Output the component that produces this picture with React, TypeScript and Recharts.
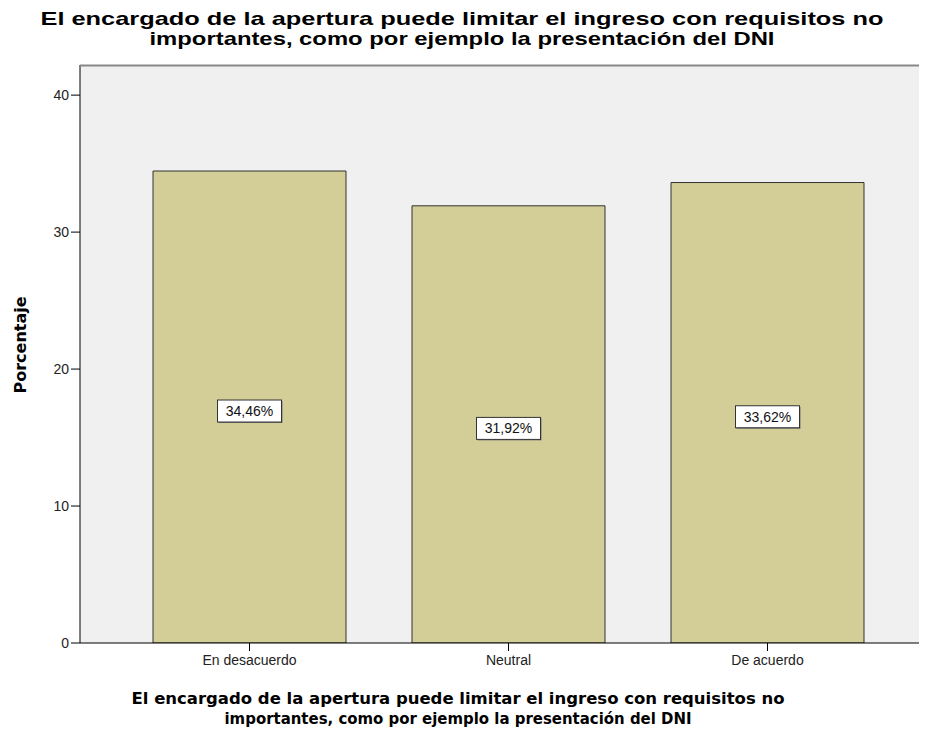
import { Bar, BarChart, CartesianGrid, LabelList, XAxis, YAxis } from "recharts";

const categories = ["En desacuerdo", "Neutral", "De acuerdo"];
const percentages = [34.46, 31.92, 33.62];
const yTicks = [0, 10, 20, 30, 40];

const titleLines = [
  "El encargado de la apertura puede limitar el ingreso con requisitos no",
  "importantes, como por ejemplo la presentación del DNI",
];

const data = categories.map((name, i) => ({ name, value: percentages[i] }));

const fmt = (v: number) => v.toFixed(2).replace(".", ",") + "%";

const ValueBox = (props: any) => {
  const { x, y, width, height, value } = props;
  const cx = x + width / 2;
  const cy = y + height / 2 + 4;
  const w = 64;
  const h = 22;
  return (
    <g>
      <rect x={cx - w / 2 + 1} y={cy - h / 2 + 1} width={w} height={h} fill="#777" />
      <rect x={cx - w / 2} y={cy - h / 2} width={w} height={h} fill="#fff" stroke="#333" />
      <text
        x={cx}
        y={cy + 5}
        textAnchor="middle"
        fontSize={14}
        fontFamily="'Liberation Sans', Arial, sans-serif"
        fill="#111"
      >
        {fmt(value)}
      </text>
    </g>
  );
};

export default function App() {
  const W = 927;
  const H = 734;
  return (
    <div style={{ position: "relative", width: W, height: H, margin: "-8px 0 0 -8px", background: "#fff" }}>
      <BarChart
        width={W}
        height={H}
        data={data}
        margin={{ top: 65, right: 0, left: 0, bottom: 0 }}
        barSize={193}
      >
        <CartesianGrid fill="#f0f0f0" horizontal={false} vertical={false} />
        <XAxis
          dataKey="name"
          height={91}
          padding={{ left: 40, right: 30 }}
          tickSize={8}
          tickMargin={4}
          stroke="#000"
          tick={{ fill: "#222", fontSize: 14, fontFamily: "'Liberation Sans', Arial, sans-serif" }}
        />
        <YAxis
          width={80}
          domain={[0, 42.2]}
          ticks={yTicks}
          allowDataOverflow
          tickSize={9}
          tickMargin={2}
          stroke="#000"
          tick={{ fill: "#222", fontSize: 14, fontFamily: "'Liberation Sans', Arial, sans-serif" }}
        />
        <Bar dataKey="value" fill="#d3ce97" stroke="#333" strokeWidth={1} isAnimationActive={false}>
          <LabelList dataKey="value" content={ValueBox} />
        </Bar>
      </BarChart>
      <svg
        width={W}
        height={H}
        style={{ position: "absolute", left: 0, top: 0, pointerEvents: "none" }}
      >
        <line x1={80} y1={65.5} x2={W} y2={65.5} stroke="#888" strokeWidth={2} />
        <text
          fontFamily="'Liberation Sans', Arial, sans-serif"
          fontWeight="bold"
          fontSize={19}
          fill="#000"
          textAnchor="middle"
        >
          <tspan x={462} y={25} textLength={843} lengthAdjust="spacingAndGlyphs">
            {titleLines[0]}
          </tspan>
          <tspan x={462} y={45} textLength={625} lengthAdjust="spacingAndGlyphs">
            {titleLines[1]}
          </tspan>
        </text>
        <text
          fontFamily="'DejaVu Sans', Verdana, sans-serif"
          fontWeight="bold"
          fontSize={16}
          fill="#000"
          textAnchor="middle"
        >
          <tspan x={458} y={704} textLength={653} lengthAdjust="spacingAndGlyphs">
            {titleLines[0]}
          </tspan>
          <tspan x={458} y={724} textLength={467} lengthAdjust="spacingAndGlyphs">
            {titleLines[1]}
          </tspan>
        </text>
        <text
          transform="translate(26,345) rotate(-90)"
          textAnchor="middle"
          fontFamily="'DejaVu Sans', Verdana, sans-serif"
          fontWeight="bold"
          fontSize={16}
          fill="#000"
        >
          Porcentaje
        </text>
      </svg>
    </div>
  );
}
